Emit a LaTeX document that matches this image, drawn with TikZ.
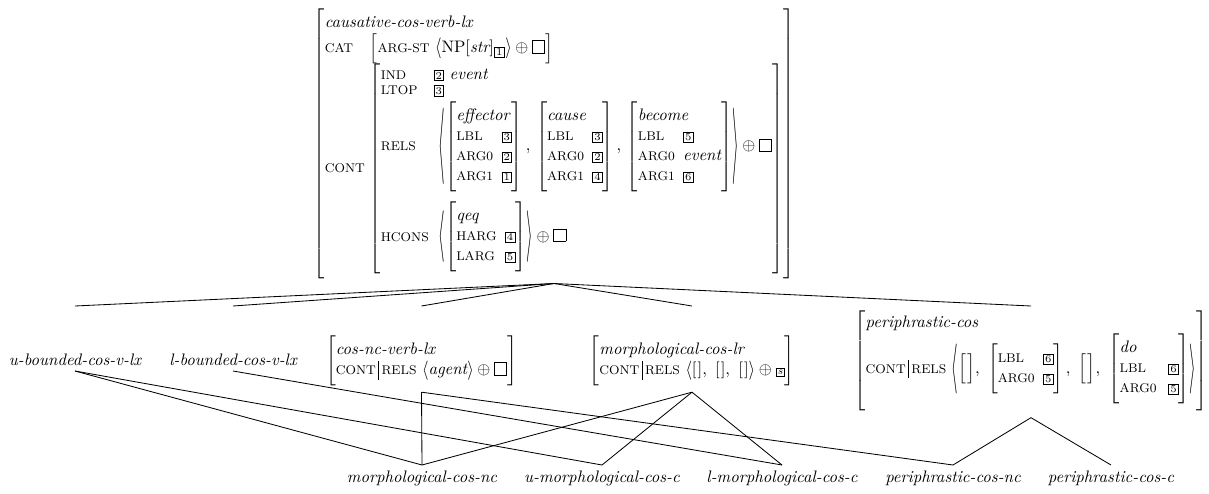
\documentclass[tikz,border=0pt]{standalone}
\usepackage{amsmath}
\usepackage{graphicx}
\usetikzlibrary{calc}

% feature names: small upright capitals
\newcommand\ft[1]{\text{\fontsize{7.6}{8}\selectfont\MakeUppercase{#1}}}
\newcommand\ty[1]{\textit{#1}}
% boxed tags
\newcommand\tg[1]{\text{\setlength\fboxsep{0.8pt}\setlength\fboxrule{0.4pt}\fbox{\fontsize{6.3}{7}\selectfont #1}}}
% empty list box
\newcommand\eb{\text{\setlength\fboxsep{0pt}\setlength\fboxrule{0.4pt}\fbox{\rule{0pt}{7pt}\hspace{7pt}}}}
% path separator
\newcommand\contrels{\text{\ft{cont}\kern1.5pt\vrule height 8pt depth 3pt width 0.4pt\kern1.5pt\ft{rels}}}
% thin stretched angle brackets
\newcommand\lang[1]{\mathopen{\vcenter{\hbox{\scalebox{1}[#1]{$\langle$}}}}}
\newcommand\rang[1]{\mathclose{\vcenter{\hbox{\scalebox{1}[#1]{$\rangle$}}}}}
\newcommand\nil{[\kern0.6pt]}
\newcommand\bignil{\bigl[\kern0.6pt\bigr]}
\delimitershortfall=-1pt
\delimiterfactor=1000

\begin{document}
\begin{tikzpicture}[x=0.6pt,y=-0.6pt,
  avm/.style={inner sep=0pt, outer sep=0pt},
  lbl/.style={inner sep=0pt, font=\itshape, anchor=base},
  link/.style={line width=0.5pt}]
\useasboundingbox (0,0) rectangle (1209,493);

% supertype
\node[avm] (top) at (554,143.5) {$\left[\begin{array}{@{}l@{\hspace{3pt}}l@{}}
\multicolumn{2}{@{}l@{}}{\ty{causative-cos-verb-lx}}\\
\ft{cat} & \bigl[\ft{arg-st}\ \lang{1.25}\text{NP}[\ty{str}]_{\tg{1}}\rang{1.25} \oplus \eb \bigr]\\[0pt]
\ft{cont} & \left[\begin{array}{@{}l@{\hspace{3pt}}l@{}}
  \ft{ind} & \tg{2}\ \ty{event}\\[-3pt]
  \ft{ltop} & \tg{3}\\[1pt]
  \ft{rels} & \kern3pt\lang{4.6}
     \left[\begin{array}{@{}l@{\hspace{5pt}}l@{}}
        \multicolumn{2}{@{}l@{}}{\ty{effector}}\\
        \ft{lbl} & \tg{3}\\
        \ft{arg0} & \tg{2}\\
        \ft{arg1} & \tg{1}
     \end{array}\right],\,
     \left[\begin{array}{@{}l@{\hspace{5pt}}l@{}}
        \multicolumn{2}{@{}l@{}}{\ty{cause}}\\
        \ft{lbl} & \tg{3}\\
        \ft{arg0} & \tg{2}\\
        \ft{arg1} & \tg{4}
     \end{array}\right],\,
     \left[\begin{array}{@{}l@{\hspace{5pt}}l@{}}
        \multicolumn{2}{@{}l@{}}{\ty{become}}\\
        \ft{lbl} & \tg{5}\\
        \ft{arg0} & \ty{event}\\
        \ft{arg1} & \tg{6}
     \end{array}\right]
  \rang{4.6} \oplus \eb\\[27pt]
  \ft{hcons} & \kern3pt\lang{3.1}
     \left[\begin{array}{@{}l@{\hspace{5pt}}l@{}}
        \multicolumn{2}{@{}l@{}}{\ty{qeq}}\\
        \ft{harg} & \tg{4}\\
        \ft{larg} & \tg{5}
     \end{array}\right]\rang{3.1} \oplus \eb
\end{array}\right]
\end{array}\right]$};

% immediate subtypes
\node[lbl] (ub) at (75,365) {u-bounded-cos-v-lx};
\node[lbl] (lb) at (233,365) {l-bounded-cos-v-lx};
\node[avm] (cosnc) at (421.5,360.5) {$\left[\begin{array}{@{}l@{}}
\ty{cos-nc-verb-lx}\\
\contrels\ \lang{1.15}\ty{agent}\rang{1.15}\oplus\eb
\end{array}\right]$};
\node[avm] (morphlr) at (692,360.5) {$\left[\begin{array}{@{}l@{}}
\ty{morphological-cos-lr}\\
\contrels\ \lang{1.15}\nil,\ \nil,\ \nil\rang{1.15}\oplus\tg{\itshape s}
\end{array}\right]$};
\node[avm] (periph) at (1031,361) {$\left[\begin{array}{@{}l@{}}
\ty{periphrastic-cos}\\
\contrels\ \lang{3}\bignil,\ \left[\begin{array}{@{}l@{\hspace{5pt}}l@{}}
  \ft{lbl} & \tg{6}\\
  \ft{arg0} & \tg{5}
\end{array}\right],\ \bignil,\ \left[\begin{array}{@{}l@{\hspace{7pt}}l@{}}
  \multicolumn{2}{@{}l@{}}{\ty{do}}\\
  \ft{lbl} & \tg{6}\\
  \ft{arg0} & \tg{5}
\end{array}\right]\rang{3}\rule[-21pt]{0pt}{0pt}
\end{array}\right]$};

% leaf types
\node[lbl] (mnc) at (422,482) {morphological-cos-nc};
\node[lbl] (umc) at (602,482) {u-morphological-cos-c};
\node[lbl] (lmc) at (782,482) {l-morphological-cos-c};
\node[lbl] (pnc) at (953,482) {periphrastic-cos-nc};
\node[lbl] (pcc) at (1111,482) {periphrastic-cos-c};

% connector ends
\coordinate (top-b) at ([yshift=-3pt]top.south);
\coordinate (ub-t) at (ub |- 0,306);
\coordinate (lb-t) at (lb |- 0,306);
\coordinate (cosnc-t) at (cosnc |- 0,306);
\coordinate (morphlr-t) at (morphlr |- 0,306);
\coordinate (periph-t) at (periph |- 0,306);

\coordinate (ub-b) at (ub |- 0,371);
\coordinate (lb-b) at (lb |- 0,371);
\coordinate (cosnc-b) at ([yshift=-4pt]cosnc.south);
\coordinate (morphlr-b) at ([yshift=-4pt]morphlr.south);
\coordinate (periph-b) at ([yshift=-4pt]periph.south);

\coordinate (mnc-t) at (mnc |- 0,465);
\coordinate (umc-t) at (umc |- 0,465);
\coordinate (lmc-t) at (lmc |- 0,465);
\coordinate (pnc-t) at (pnc |- 0,465);
\coordinate (pcc-t) at (pcc |- 0,465);

% hierarchy links
\foreach \c in {ub,lb,cosnc,morphlr,periph}
  \draw[link] (top-b) -- (\c-t);
\draw[link] (ub-b) -- (mnc-t);
\draw[link] (ub-b) -- (umc-t);
\draw[link] (lb-b) -- (lmc-t);
\draw[link] (cosnc-b) -- (mnc-t);
\draw[link] (cosnc-b) -- (pnc-t);
\draw[link] (morphlr-b) -- (mnc-t);
\draw[link] (morphlr-b) -- (umc-t);
\draw[link] (morphlr-b) -- (lmc-t);
\draw[link] (periph-b) -- (pnc-t);
\draw[link] (periph-b) -- (pcc-t);
\end{tikzpicture}
\end{document}
